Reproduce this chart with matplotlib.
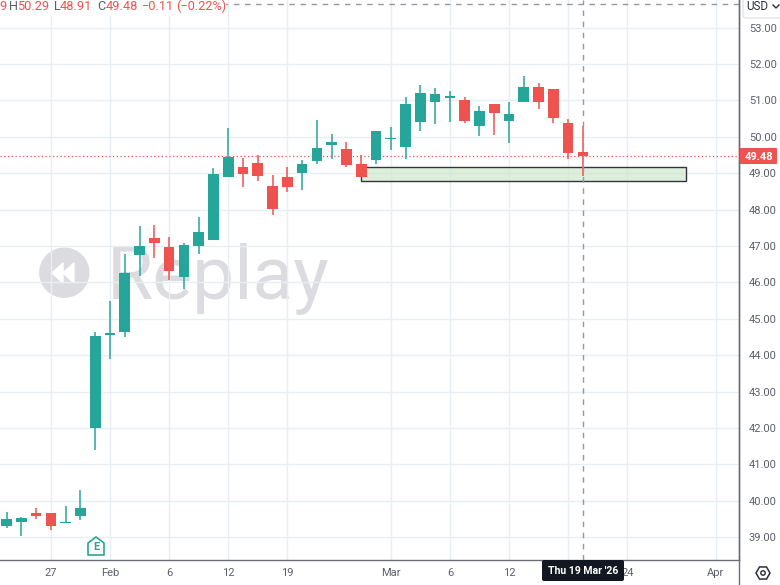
import matplotlib
matplotlib.use("Agg")
import matplotlib.pyplot as plt
from matplotlib.patches import Rectangle, Circle, Polygon, RegularPolygon, FancyBboxPatch
from matplotlib.transforms import Affine2D

plt.rcParams['font.family'] = ['Roboto', 'DejaVu Sans']

opens = [39.31, 39.41, 39.67, 39.67, 39.38, 39.57, 42.00, 44.56, 44.64, 46.75,
         47.21, 46.97, 46.15, 47.01, 47.16, 48.89, 49.16, 49.29, 48.64, 48.90,
         49.01, 49.33, 49.77, 49.66, 49.26, 49.35, 49.95, 49.72, 50.41, 50.95,
         51.07, 51.01, 50.30, 50.89, 50.43, 50.95, 51.36, 51.30, 50.37, 49.59]
highs = [39.69, 39.56, 39.81, 39.67, 39.86, 40.30, 44.64, 45.50, 46.78, 47.55,
         47.58, 47.26, 47.08, 47.79, 49.13, 50.23, 49.43, 49.50, 48.94, 49.16,
         49.35, 50.47, 50.08, 49.85, 49.49, 50.16, 50.27, 51.09, 51.41, 51.33,
         51.25, 51.09, 50.84, 50.89, 50.96, 51.67, 51.47, 51.30, 50.49, 50.29]
lows = [39.25, 39.04, 39.51, 39.20, 39.38, 39.48, 41.40, 43.90, 44.51, 46.18,
        46.67, 46.07, 45.83, 46.77, 47.16, 48.89, 48.63, 48.79, 47.84, 48.49,
        48.54, 49.25, 49.40, 49.18, 48.89, 49.25, 49.64, 49.38, 50.16, 50.35,
        50.41, 50.37, 50.02, 50.05, 49.83, 50.95, 50.76, 50.37, 49.38, 48.91]
closes = [39.49, 39.52, 39.59, 39.32, 39.42, 39.80, 44.53, 44.60, 46.25, 47.00,
          47.08, 46.30, 47.03, 47.38, 48.98, 49.45, 48.99, 48.91, 48.02, 48.63,
          49.24, 49.68, 49.87, 49.22, 48.89, 50.16, 49.98, 50.89, 51.19, 51.18,
          51.12, 50.43, 50.70, 50.66, 50.63, 51.38, 50.95, 50.51, 49.56, 49.48]

# the tick at index 38 has its label hidden behind the date tooltip in the reference
date_ticks = [3, 7, 11, 15, 19, 26, 30, 34, 38, 42, 48]
date_labels = ['27', 'Feb', '6', '12', '19', 'Mar', '6', '12', '', '24', 'Apr']
price_ticks = list(range(39, 54))

last_price = 49.48
zone_left, zone_right = 24, 46
zone_low, zone_high = 48.79, 49.18
cross_index = 39
cross_price = 53.65

UP = '#26a69a'
DOWN = '#ef5350'
GRID = '#e8eff4'
AXIS = '#6a6d78'
TEXT = '#5d606b'

fig = plt.figure(figsize=(7.8, 5.85), dpi=100, facecolor='white')
ax = fig.add_axes([0, 25 / 585, 739 / 780, 560 / 585])
ax.set_xlim(-0.44, 49.56)
ax.set_ylim(38.373, 53.758)

# image pixel coords for the bits of chrome that are not data
px = Affine2D().scale(1, -1).translate(0, 585)

ax.set_xticks(date_ticks)
ax.set_xticklabels(date_labels)
ax.set_yticks(price_ticks)
ax.set_yticklabels(['%.2f' % p for p in price_ticks])
ax.yaxis.tick_right()
ax.tick_params(axis='both', length=0, labelsize=8, labelcolor=TEXT)
ax.tick_params(axis='x', pad=6)
ax.tick_params(axis='y', pad=7)
ax.grid(True, color=GRID, lw=1, zorder=0.5)
ax.set_axisbelow(True)
for s in ['top', 'left']:
    ax.spines[s].set_visible(False)
for s in ['right', 'bottom']:
    ax.spines[s].set_color(AXIS)
    ax.spines[s].set_linewidth(1)

# Replay watermark, sits under the grid
wm = '#dcdce0'
ax.add_patch(Circle((64.3, 272.7), 24.5, transform=px, color=wm, zorder=0.2))
ax.add_patch(Polygon([(63, 263), (63, 283), (52, 273)], transform=px, color='white', zorder=0.3))
ax.add_patch(Polygon([(74, 263), (74, 283), (63, 273)], transform=px, color='white', zorder=0.3))
ax.text(107, 299, 'Replay', transform=px, fontsize=54, color=wm,
        va='baseline', ha='left', zorder=0.2)

# zone
ax.add_patch(Rectangle((zone_left, zone_low), zone_right - zone_left, zone_high - zone_low,
                       facecolor='#cfe8cb', alpha=0.7, edgecolor='none', zorder=2))
ax.add_patch(Rectangle((zone_left, zone_low), zone_right - zone_left, zone_high - zone_low,
                       facecolor='none', edgecolor='#333640', lw=1, zorder=2.1))

ax.axhline(last_price, color=DOWN, ls=(0, (1, 2)), lw=0.9, zorder=2.5)

# candles
for i in range(len(opens)):
    c = UP if closes[i] >= opens[i] else DOWN
    ax.vlines(i, lows[i], highs[i], color=c, lw=1.1, zorder=3)
    ax.bar(i, abs(closes[i] - opens[i]), bottom=min(opens[i], closes[i]), width=0.72,
           color=c, zorder=3.2)

# crosshair
ax.axvline(cross_index, color='#9598a1', ls=(0, (4, 4)), lw=1, zorder=4)
ax.axhline(cross_price, color='#9598a1', ls=(0, (4, 4)), lw=1, zorder=4)

# header strip
ax.add_patch(Rectangle((0, 0), 226, 16, transform=px, facecolor='white', edgecolor='none', zorder=5))
header = [(-1, '9', DOWN), (9, 'H', TEXT), (17, '50.29', DOWN), (54, 'L', TEXT), (60, '48.91', DOWN),
          (97, 'C', TEXT), (106, '49.48', DOWN), (142, '\u22120.11', DOWN), (176, '(\u22120.22%)', DOWN)]
for hx, s, col in header:
    ax.text(hx, 6, s, transform=px, color=col, fontsize=9.2, va='center', ha='left', zorder=6)

# earnings badge
ax.add_patch(Polygon([(88, 543), (96, 537), (104, 543), (104, 555), (88, 555)], transform=px,
                     closed=True, facecolor='white', edgecolor=UP, lw=1.2, joinstyle='round', zorder=5))
ax.text(96, 547, 'E', transform=px, color=UP, fontsize=8, fontweight='bold', ha='center', va='center', zorder=6)

# right scale / bottom chrome drawn over the axes
fig.add_artist(plt.Line2D([739, 739], [0, 585], transform=px, color=AXIS, lw=1, zorder=9))
fig.add_artist(FancyBboxPatch((743, -6), 40, 24, transform=px, boxstyle='round,pad=0,rounding_size=3',
                              facecolor='white', edgecolor='#e3e5ea', lw=1, zorder=9))
fig.text(746, 6, 'USD', transform=px, color='#2a2e39', fontsize=8.4, va='center', zorder=10)
fig.add_artist(plt.Line2D([773, 776, 779], [5, 8, 5], transform=px, color='#2a2e39', lw=1, zorder=10))

fig.add_artist(FancyBboxPatch((740, 148), 37, 16, transform=px, boxstyle='round,pad=0,rounding_size=1',
                              facecolor=DOWN, edgecolor='none', zorder=9))
fig.text(759, 156.5, '%.2f' % last_price, transform=px, color='white', fontsize=8, fontweight='bold',
         ha='center', va='center', zorder=10)

fig.add_artist(FancyBboxPatch((542, 560), 82, 21, transform=px, boxstyle='round,pad=0,rounding_size=2',
                              facecolor='#131722', edgecolor='none', zorder=9))
fig.text(583, 571, "Thu 19 Mar '26", transform=px, color='white', fontsize=7.6, fontweight='bold',
         ha='center', va='center', zorder=10)

fig.add_artist(RegularPolygon((763, 573), 6, radius=7, orientation=0.5236, transform=px,
                              facecolor='white', edgecolor='#2a2e39', lw=1.1, zorder=9))
fig.add_artist(Circle((763, 573), 2.2, transform=px, facecolor='white', edgecolor='#2a2e39', lw=1, zorder=10))

fig.savefig('out.png', dpi=100)
